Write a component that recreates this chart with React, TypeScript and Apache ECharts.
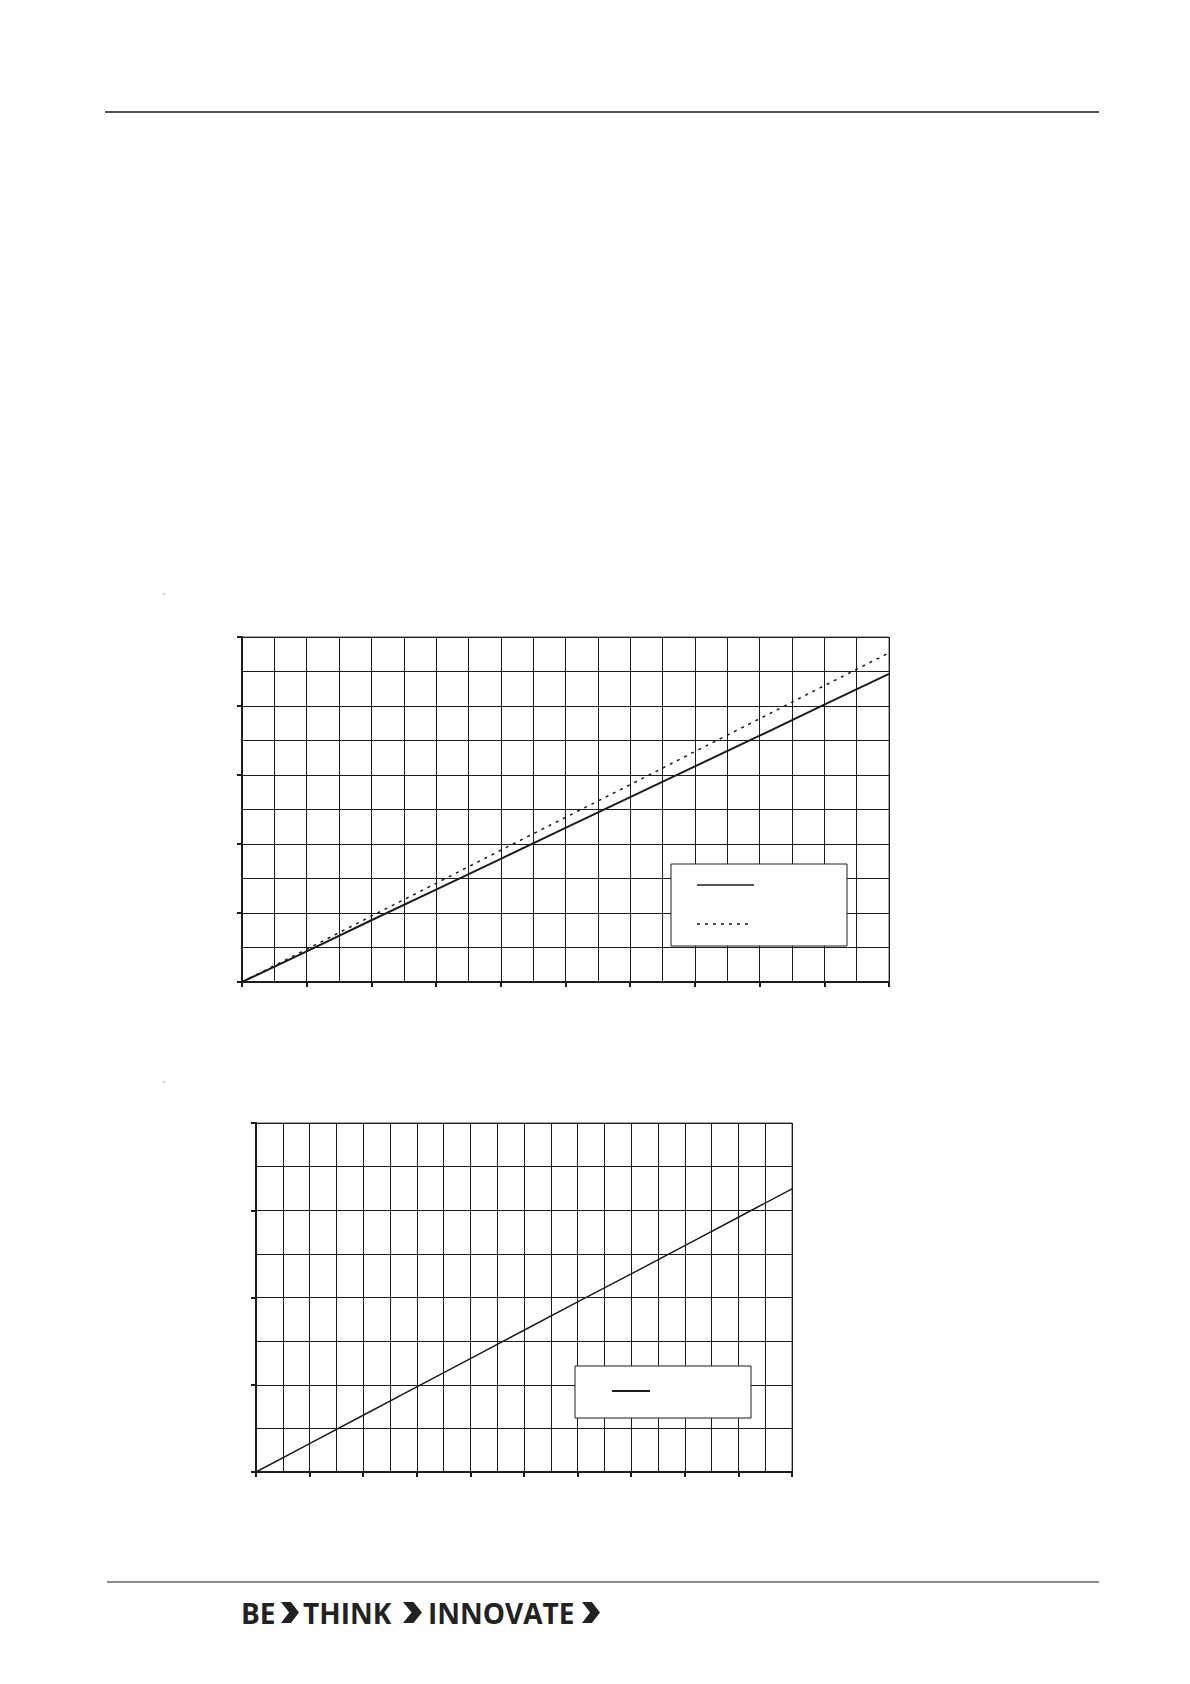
import React, { useEffect, useRef } from "react";
import * as echarts from "echarts";

// Chart 1 data (x positions in grid columns, y in grid rows)
const xValues1 = [0, 2, 4, 6, 8, 10, 12, 14, 16, 18, 20];
const solid1 = [0, 0.89, 1.79, 2.68, 3.57, 4.47, 5.36, 6.25, 7.14, 8.04, 8.93];
const dashed1 = [0, 0.95, 1.91, 2.86, 3.82, 4.77, 5.72, 6.68, 7.63, 8.59, 9.54];

// Chart 2 data
const xValues2 = [0, 2, 4, 6, 8, 10, 12, 14, 16, 18, 20];
const line2 = [0, 0.65, 1.3, 1.95, 2.6, 3.25, 3.9, 4.54, 5.19, 5.84, 6.49];

// Footer words
const footerWords = ["BE", "THINK", "INNOVATE"];

const INK = "#1c1c1c";

function axisCommon(max: number) {
  return {
    type: "value" as const,
    min: 0,
    max,
    interval: 2,
    axisLabel: { show: false },
    axisLine: { show: true, lineStyle: { color: INK, width: 2 } },
    axisTick: { show: true, length: 5, lineStyle: { color: INK, width: 2 } },
    minorTick: { show: false, splitNumber: 2 },
    splitLine: { show: true, lineStyle: { color: INK, width: 1 } },
    minorSplitLine: { show: true, lineStyle: { color: INK, width: 1 } },
  };
}

function chevron(x0: number, x1: number, y0: number, y1: number) {
  const w = x1 - x0;
  const ym = (y0 + y1) / 2;
  const t = w * 0.55;
  return {
    type: "polygon",
    shape: {
      points: [
        [x0, y0],
        [x0 + t, y0],
        [x1, ym],
        [x0 + t, y1],
        [x0, y1],
        [x1 - t, ym],
      ],
    },
    style: { fill: "#222" },
  };
}

export default function App() {
  const ref = useRef<HTMLDivElement>(null);
  useEffect(() => {
    if (!ref.current) return;
    const chart = echarts.init(ref.current, null, { renderer: "svg" });
    const option: any = {
      animation: false,
      backgroundColor: "#ffffff",
      grid: [
        { left: 242, top: 637, width: 647, height: 345, show: true, borderColor: "#555", borderWidth: 1 },
        { left: 256, top: 1123, width: 536, height: 349, show: true, borderColor: "#555", borderWidth: 1 },
      ],
      xAxis: [
        { ...axisCommon(20), gridIndex: 0 },
        { ...axisCommon(20), gridIndex: 1 },
      ],
      yAxis: [
        { ...axisCommon(10), gridIndex: 0 },
        { ...axisCommon(8), gridIndex: 1 },
      ],
      series: [
        {
          type: "line",
          xAxisIndex: 0,
          yAxisIndex: 0,
          data: xValues1.map((x, i) => [x, solid1[i]]),
          showSymbol: false,
          lineStyle: { color: INK, width: 2 },
        },
        {
          type: "line",
          xAxisIndex: 0,
          yAxisIndex: 0,
          data: xValues1.map((x, i) => [x, dashed1[i]]),
          showSymbol: false,
          lineStyle: { color: INK, width: 1.5, type: [3, 5] },
        },
        {
          type: "line",
          xAxisIndex: 1,
          yAxisIndex: 1,
          data: xValues2.map((x, i) => [x, line2[i]]),
          showSymbol: false,
          lineStyle: { color: INK, width: 1.5 },
        },
      ],
      graphic: [
        // header and footer rules
        { type: "line", z: 100, shape: { x1: 105, y1: 112, x2: 1099, y2: 112 }, style: { stroke: INK, lineWidth: 1.5 } },
        { type: "line", z: 100, shape: { x1: 107, y1: 1582, x2: 1099, y2: 1582 }, style: { stroke: INK, lineWidth: 1.2 } },
        // small marks
        { type: "rect", z: 100, shape: { x: 163.5, y: 593.5, width: 1, height: 1 }, style: { fill: "#333" } },
        { type: "rect", z: 100, shape: { x: 163.5, y: 1081.5, width: 1, height: 1 }, style: { fill: "#333" } },
        // legend chart 1
        { type: "rect", z: 100, shape: { x: 671, y: 864, width: 176, height: 82 }, style: { fill: "#fff", stroke: INK, lineWidth: 1 } },
        { type: "line", z: 101, shape: { x1: 697, y1: 885, x2: 754, y2: 885 }, style: { stroke: INK, lineWidth: 1.5 } },
        { type: "line", z: 101, shape: { x1: 697, y1: 924, x2: 752, y2: 924 }, style: { stroke: INK, lineWidth: 1.5, lineDash: [3, 5] } },
        // legend chart 2
        { type: "rect", z: 100, shape: { x: 575, y: 1366, width: 176, height: 52 }, style: { fill: "#fff", stroke: INK, lineWidth: 1 } },
        { type: "line", z: 101, shape: { x1: 612, y1: 1391, x2: 650, y2: 1391 }, style: { stroke: INK, lineWidth: 2 } },
        // footer logo
        { type: "text", z: 100, x: 241, y: 1613, style: { text: footerWords[0], font: "bold 28px 'Open Sans'", fill: "#222", textAlign: "left", textVerticalAlign: "middle" } },
        { ...chevron(281, 299, 1602, 1623), z: 100 },
        { type: "text", z: 100, x: 303, y: 1613, style: { text: footerWords[1], font: "bold 28px 'Open Sans'", fill: "#222", textAlign: "left", textVerticalAlign: "middle" } },
        { ...chevron(403, 422, 1602, 1623), z: 100 },
        { type: "text", z: 100, x: 428, y: 1613, style: { text: footerWords[2], font: "bold 28px 'Open Sans'", fill: "#222", textAlign: "left", textVerticalAlign: "middle" } },
        { ...chevron(582, 600, 1602, 1623), z: 100 },
      ],
    };
    chart.setOption(option);
    return () => chart.dispose();
  }, []);
  return (
    <div
      ref={ref}
      style={{ position: "absolute", left: 0, top: 0, width: 1190, height: 1684, background: "#fff" }}
    />
  );
}
